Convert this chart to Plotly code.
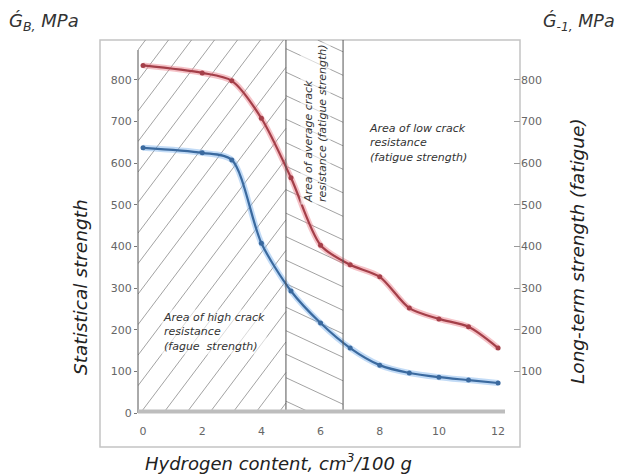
import math
import plotly.graph_objects as go

# ---------------- data ----------------
hydrogen = [0, 2, 3, 4, 5, 6, 7, 8, 9, 10, 11, 12]
static_strength = [835, 817, 798, 708, 565, 403, 356, 327, 252, 226, 207, 156]
fatigue_strength = [637, 625, 608, 408, 293, 216, 156, 115, 96, 86, 79, 72]
left_ticks = [0, 100, 200, 300, 400, 500, 600, 700, 800]
right_ticks = [100, 200, 300, 400, 500, 600, 700, 800]
x_ticks = [0, 2, 4, 6, 8, 10, 12]
zone_bounds = [4.83, 6.76]

# ---------------- layout geometry ----------------
W, H = 621, 474
L, R, T, B = 138, 520, 40, 413          # plot area in pixels
XR = [-0.17, 12.74]
YR = [0, 896]
FONT = "DejaVu Sans, Verdana, sans-serif"

def px_x(v):   # data x -> pixel
    return L + (v - XR[0]) / (XR[1] - XR[0]) * (R - L)

def x_from_px(p):
    return XR[0] + (p - L) / (R - L) * (XR[1] - XR[0])

def y_from_px(p):
    return YR[0] + (B - p) / (B - T) * (YR[1] - YR[0])

def xp(p):  # pixel -> paper x
    return (p - L) / (R - L)

def yp(p):  # pixel -> paper y
    return (B - p) / (B - T)

def hatch(x0, x1, y0, y1, ang_deg, spacing):
    """hatch lines inside pixel rect; ang measured from horizontal (pixel, y up)"""
    a = math.radians(ang_deg)
    d = (math.cos(a), -math.sin(a))          # direction in pixel coords (y down)
    n = (-d[1], d[0])
    cx, cy = (x0 + x1) / 2, (y0 + y1) / 2
    diag = math.hypot(x1 - x0, y1 - y0)
    xs, ys = [], []
    k = -int(diag / spacing) - 2
    while k * spacing < diag:
        px0 = cx + n[0] * k * spacing
        py0 = cy + n[1] * k * spacing
        tmin, tmax = -1e9, 1e9
        ok = True
        for p, dd, lo, hi in ((px0, d[0], x0, x1), (py0, d[1], y0, y1)):
            if abs(dd) < 1e-12:
                if p < lo or p > hi:
                    ok = False
            else:
                t1, t2 = (lo - p) / dd, (hi - p) / dd
                tmin = max(tmin, min(t1, t2))
                tmax = min(tmax, max(t1, t2))
        if ok and tmax > tmin:
            for t in (tmin, tmax):
                xs.append(x_from_px(px0 + d[0] * t))
                ys.append(y_from_px(py0 + d[1] * t))
            xs.append(None)
            ys.append(None)
        k += 1
    return xs, ys

fig = go.Figure()

# hatching
b1 = px_x(zone_bounds[0])
b2 = px_x(zone_bounds[1])
hx1, hy1 = hatch(L, b1, T, B, 53, 23 * math.sin(math.radians(53)))
hx2, hy2 = hatch(b1, b2, T, B, -25, 23.5 * math.cos(math.radians(25)))
fig.add_trace(go.Scatter(x=hx1 + hx2, y=hy1 + hy2, mode="lines",
                         line=dict(color="#8a8a8a", width=0.8),
                         hoverinfo="skip", showlegend=False, cliponaxis=True))

# curves with soft halo
for vals, halo, core in ((static_strength, "rgba(232,120,130,0.45)", "#a43f49"),
                         (fatigue_strength, "rgba(120,175,235,0.45)", "#3b6a9f")):
    fig.add_trace(go.Scatter(x=hydrogen, y=vals, mode="lines",
                             line=dict(color=halo, width=6, shape="spline", smoothing=0.8),
                             hoverinfo="skip", showlegend=False))
    fig.add_trace(go.Scatter(x=hydrogen, y=vals, mode="lines+markers",
                             line=dict(color=core, width=2.2, shape="spline", smoothing=0.8),
                             marker=dict(color=core, size=5),
                             showlegend=False))

# invisible trace for the right axis
fig.add_trace(go.Scatter(x=[hydrogen[0]], y=[right_ticks[0]], yaxis="y2",
                         mode="markers", marker=dict(opacity=0),
                         hoverinfo="skip", showlegend=False))

shapes = [
    # outer frame
    dict(type="rect", xref="paper", yref="paper", x0=xp(100), x1=xp(520), y0=yp(447), y1=yp(40),
         line=dict(color="#c4c4c4", width=1.5), layer="below"),
    # left axis line
    dict(type="line", xref="paper", yref="paper", x0=0, x1=0, y0=0, y1=yp(50),
         line=dict(color="#555", width=1)),
    # zone boundaries
    dict(type="line", xref="x", yref="paper", x0=zone_bounds[0], x1=zone_bounds[0], y0=0, y1=1,
         line=dict(color="#555", width=1)),
    dict(type="line", xref="x", yref="paper", x0=zone_bounds[1], x1=zone_bounds[1], y0=0, y1=1,
         line=dict(color="#555", width=1)),
    # bottom gray band
    dict(type="line", xref="paper", yref="paper", x0=0, x1=xp(505), y0=yp(411.5), y1=yp(411.5),
         line=dict(color="#bdbdbd", width=4)),
]

ann_font = dict(family=FONT, size=11, color="#333")
title_font = dict(family=FONT, size=18, color="#222")
annotations = [
    dict(text="<i>Ǵ<sub>B,</sub> MPa</i>", xref="paper", yref="paper", x=xp(7), y=yp(22),
         xanchor="left", yanchor="middle", showarrow=False,
         font=dict(family=FONT, size=18, color="#333")),
    dict(text="<i>Ǵ<sub>-1,</sub> MPa</i>", xref="paper", yref="paper", x=xp(541), y=yp(22),
         xanchor="left", yanchor="middle", showarrow=False,
         font=dict(family=FONT, size=17.5, color="#333")),
    dict(text="<i>Statistical strength</i>", xref="paper", yref="paper", x=xp(80), y=yp(287),
         xanchor="center", yanchor="middle", textangle=-90, showarrow=False,
         font=dict(family=FONT, size=18.5, color="#222")),
    dict(text="<i>Long-term strength (fatigue)</i>", xref="paper", yref="paper", x=xp(578), y=yp(251),
         xanchor="center", yanchor="middle", textangle=-90, showarrow=False,
         font=dict(family=FONT, size=18.5, color="#222")),
    dict(text="<i>Hydrogen content, cm<sup>3</sup>/100 g</i>", xref="paper", yref="paper",
         x=xp(278), y=yp(462), xanchor="center", yanchor="middle", showarrow=False, font=title_font),
    dict(text="<i>Area of high crack<br>resistance<br>(fague  strength)</i>", xref="paper", yref="paper",
         x=xp(161), y=yp(309), xanchor="left", yanchor="top", align="left", showarrow=False,
         font=ann_font, bgcolor="rgba(255,255,255,0.6)"),
    dict(text="<i>Area of low crack<br>resistance<br>(fatigue strength)</i>", xref="paper", yref="paper",
         x=xp(367), y=yp(120), xanchor="left", yanchor="top", align="left", showarrow=False,
         font=ann_font),
    dict(text="<i>Area of average crack<br>resistance (fatigue strength)</i>", xref="paper", yref="paper",
         x=xp(315), y=yp(124), xanchor="center", yanchor="middle", align="left", textangle=-90,
         showarrow=False, font=dict(family=FONT, size=11, color="#333"),
         bgcolor="rgba(255,255,255,0.6)"),
]

tick_font = dict(family=FONT, size=11, color="#666")
fig.update_layout(
    width=W, height=H,
    margin=dict(l=L, r=W - R, t=T, b=H - B, autoexpand=False),
    paper_bgcolor="white", plot_bgcolor="white",
    showlegend=False,
    shapes=shapes, annotations=annotations,
    xaxis=dict(range=XR, tickvals=x_ticks, showgrid=False, zeroline=False, showline=False,
               ticks="", tickfont=tick_font, ticklabelstandoff=10, fixedrange=True),
    yaxis=dict(range=YR, tickvals=left_ticks, showgrid=False, zeroline=False, showline=False,
               ticks="outside", ticklen=3, tickcolor="#777", tickfont=tick_font, fixedrange=True),
    yaxis2=dict(range=YR, tickvals=right_ticks, overlaying="y", side="right", anchor="x",
                showgrid=False, zeroline=False, showline=False, ticks="inside", ticklen=6,
                tickcolor="#999", tickfont=tick_font, fixedrange=True),
)

fig.write_html("out.html", config={"displayModeBar": False},
               post_script="document.body.style.margin='0';document.body.style.overflow='hidden';")
